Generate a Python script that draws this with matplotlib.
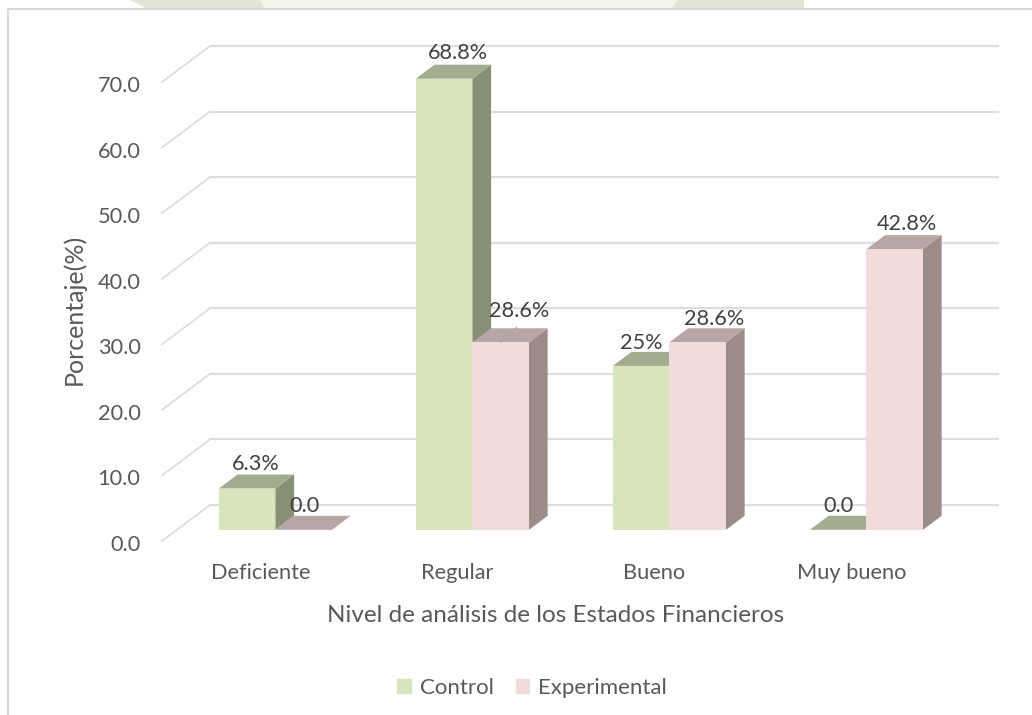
import matplotlib
matplotlib.use('Agg')
import matplotlib.pyplot as plt
from matplotlib.patches import Polygon, Rectangle
from matplotlib.transforms import Affine2D

categories = ['Deficiente', 'Regular', 'Bueno', 'Muy bueno']
control = [6.3, 68.8, 25.0, 0.0]
experimental = [0.0, 28.6, 28.6, 42.8]
control_labels = ['6.3%', '68.8%', '25%', '0.0']
experimental_labels = ['0.0', '28.6%', '28.6%', '42.8%']
y_ticks = [0, 10, 20, 30, 40, 50, 60, 70]

GRID = '#dedede'
TEXT = '#595959'
LABEL = '#404040'
BAR_W = 0.287

plt.rcParams['font.family'] = ['Lato', 'DejaVu Sans']


def shift(ax, depth):
    # pixels to the right and up for a point that far back in the chart
    return ax.transData + Affine2D().translate(48 * depth, 36 * depth)


def draw_bar(ax, x0, value, front, side, top):
    near = shift(ax, 0.31)
    far = shift(ax, 0.70)
    x1 = x0 + BAR_W
    # the faces are drawn in display pixels so the depth stays the same
    pts = lambda tr, pairs: [tr.transform(p) for p in pairs]
    a, b = pts(near, [(x0, value), (x1, value)])
    c, d = pts(far, [(x0, value), (x1, value)])
    e, f = pts(near, [(x1, 0), (x1, value)])
    g, h = pts(far, [(x1, 0), (x1, value)])
    if value > 0:
        ax.add_patch(Polygon([e, g, h, f], closed=True, color=side, lw=0,
                             transform=None, zorder=3, clip_on=False))
        ax.add_patch(Rectangle((x0, 0), BAR_W, value, color=front, lw=0,
                               transform=near, zorder=4, clip_on=False))
    ax.add_patch(Polygon([a, b, d, c], closed=True, color=top, lw=0,
                         transform=None, zorder=3, clip_on=False))


def main():
    fig = plt.figure(figsize=(10.32, 7.15), dpi=100)
    ax = fig.add_axes([162 / 1032, (715 - 541) / 715, 788 / 1032, 459 / 715])
    ax.set_xlim(-0.5, 3.5)
    ax.set_ylim(0, 70)
    ax.patch.set_visible(False)
    for s in ax.spines.values():
        s.set_visible(False)

    # bit of the page background showing above the chart
    fig.add_artist(Polygon([(130 / 1032, 1), (804 / 1032, 1), (804 / 1032, 1 - 8 / 715), (146 / 1032, 1 - 8 / 715)],
                           closed=True, color='#e3e3d6', lw=0, transform=fig.transFigure))
    fig.add_artist(Polygon([(260 / 1032, 1), (678 / 1032, 1), (672 / 1032, 1 - 8 / 715), (264 / 1032, 1 - 8 / 715)],
                           closed=True, color='#f4f4ed', lw=0, transform=fig.transFigure))

    # chart frame
    fig.add_artist(plt.Line2D([8 / 1032, 8 / 1032, 1],
                              [0, 1 - 9 / 715, 1 - 9 / 715], color='#d9d9d9', lw=1.5))

    # back wall and side gridlines
    wall = shift(ax, 1)
    for v in y_ticks:
        ax.plot([-0.5, 3.5], [v, v], color=GRID, lw=1.6, transform=wall,
                clip_on=False, zorder=1)
        p0 = ax.transData.transform((-0.5, v))
        p1 = wall.transform((-0.5, v))
        ax.add_line(plt.Line2D([p0[0], p1[0]], [p0[1], p1[1]], color=GRID, lw=1.3,
                               transform=None, zorder=1, clip_on=False))

    for i in range(len(categories)):
        draw_bar(ax, i - BAR_W, control[i], '#d7e4bc', '#878f74', '#a2ac8e')
    for i in range(len(categories)):
        draw_bar(ax, i, experimental[i], '#f2dcdb', '#9b8b89', '#b7a6a5')

    # data labels, pixels from the top of the bar front
    control_off = [(9, 25), (14, 26), (0, 23), (0, 24)]
    exper_off = [(1, 24), (18, 31), (16, 23), (12, 25)]
    near = shift(ax, 0.31)
    for i in range(len(categories)):
        for x, v, lab, off in ((i - BAR_W / 2, control[i], control_labels[i], control_off[i]),
                               (i + BAR_W / 2, experimental[i], experimental_labels[i], exper_off[i])):
            ax.annotate(lab, xy=(x, v), xycoords=near, xytext=(off[0] * 0.72, off[1] * 0.72),
                        textcoords='offset points', ha='center', va='center',
                        fontsize=15.6, color=LABEL, zorder=6, annotation_clip=False)

    # leader line of the Regular experimental label
    a = near.transform((1 + BAR_W / 2, experimental[1]))
    ax.add_line(plt.Line2D([a[0], a[0] + 16], [a[1], a[1] + 15], color='#a6a6a6', lw=0.8,
                           transform=None, zorder=5, clip_on=False))

    ax.set_xticks(range(len(categories)))
    ax.set_xticklabels(categories)
    ax.set_yticks(y_ticks)
    ax.set_yticklabels(['%.1f' % v for v in y_ticks])
    ax.tick_params(axis='both', length=0, labelsize=15.7, labelcolor=TEXT)
    ax.tick_params(axis='y', pad=15.5)
    ax.tick_params(axis='x', pad=15.5)
    for t in ax.get_yticklabels():
        t.set_transform(t.get_transform() + Affine2D().translate(0, -2))

    ax.set_xlabel('Nivel de análisis de los Estados Financieros', fontsize=17.5, color=TEXT)
    ax.xaxis.set_label_coords((555.5 - 162) / 788, -(616 - 541) / 459, transform=ax.transAxes)
    ax.xaxis.label.set_va('center')
    ax.set_ylabel('Porcentaje(%)', fontsize=18, color=TEXT)
    ax.yaxis.set_label_coords((74 - 162) / 788, (541 - 309) / 459, transform=ax.transAxes)
    ax.yaxis.label.set_va('center')

    # legend
    handles = [Rectangle((0, 0), 1, 1, color='#d7e4bc'), Rectangle((0, 0), 1, 1, color='#f2dcdb')]
    leg = fig.legend(handles, ['Control', 'Experimental'], loc='center', ncol=2,
                     bbox_to_anchor=(532 / 1032, 1 - 688 / 715), frameon=False, fontsize=16,
                     handlelength=0.62, handleheight=0.62, handletextpad=0.4, columnspacing=1.0)
    for t in leg.get_texts():
        t.set_color(TEXT)

    fig.savefig('out.png', dpi=100)


if __name__ == '__main__':
    main()
